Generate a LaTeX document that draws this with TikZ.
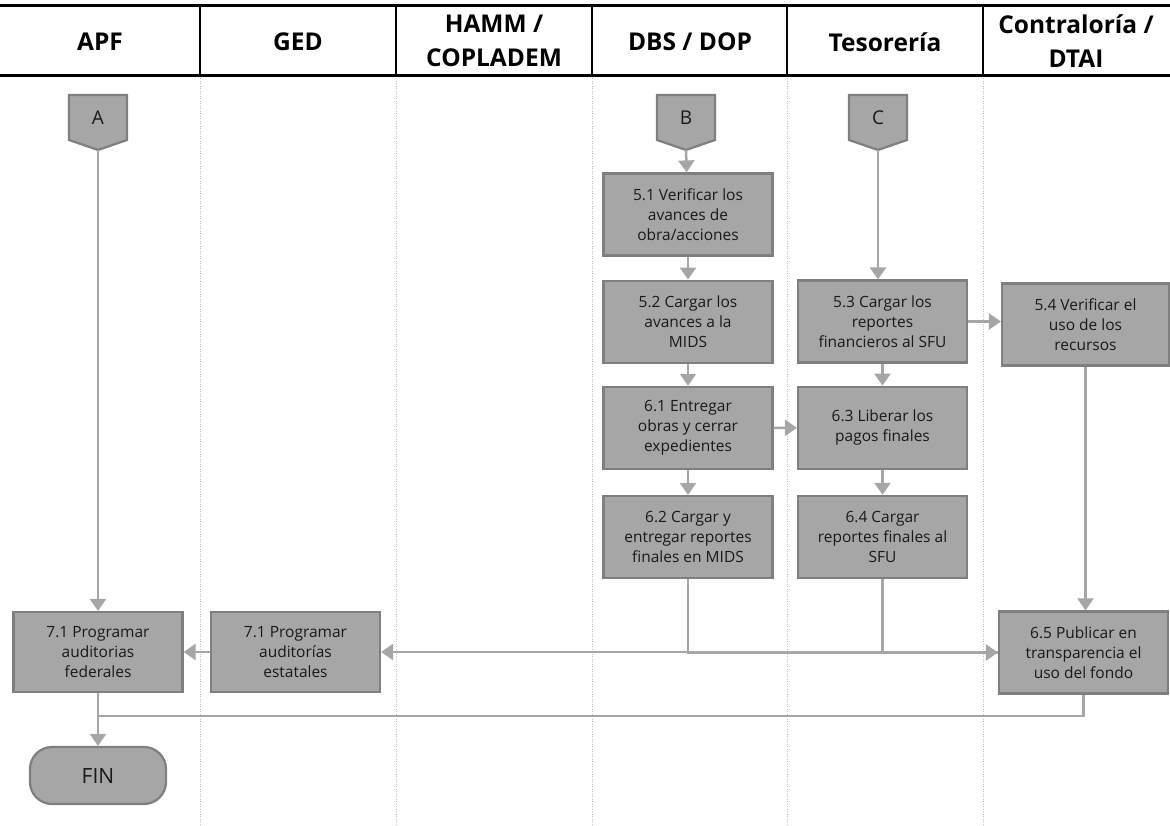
\documentclass[tikz,border=0pt]{standalone}
\usepackage{fontspec}
\setmainfont{Open Sans}
\usetikzlibrary{calc,positioning,arrows.meta}
\tikzset{>={Triangle[length=12pt,width=16pt]}}

\definecolor{boxfill}{HTML}{A6A6A6}
\definecolor{boxline}{HTML}{7F7F7F}
\definecolor{arrowgray}{HTML}{A6A6A6}
\definecolor{lanegray}{HTML}{BFBFBF}

\tikzset{
  task/.style={draw=boxline, fill=boxfill, line width=2.2pt,
    minimum width=169pt, minimum height=82pt, inner sep=2pt,
    align=center, text=black!90, font=\fontsize{15.5}{20}\selectfont},
  finbox/.style={task, rounded corners=22pt, minimum width=136pt, minimum height=57pt,
    font=\fontsize{21}{24}\selectfont},
  mk/.style={minimum width=58pt, minimum height=45pt, inner sep=0pt,
    text=black!90, font=\fontsize{19}{22}\selectfont},
  mkline/.style={draw=boxline, fill=boxfill, line width=2.2pt},
  flow/.style={->, draw=arrowgray, line width=2.5pt},
  plain/.style={draw=arrowgray, line width=2.5pt},
  lanehead/.style={align=center, font=\fontsize{24.5}{34}\selectfont\bfseries},
  lanesep/.style={draw=lanegray, line width=0.8pt, dash pattern=on 1pt off 1.5pt},
}

% off-page connector: name, position, letter
\newcommand{\offpage}[3]{%
  \begin{scope}[shift={#2}]
    \draw[mkline] (-29,-22.5) -- (29,-22.5) -- (29,22.5) -- (0,32.5) -- (-29,22.5) -- cycle;
  \end{scope}
  \node[mk] (#1) at #2 {#3};
  \coordinate (#1tip) at ($#2+(0,32.5)$);
}

\begin{document}
\begin{tikzpicture}[x=1pt,y=-1pt]
  \useasboundingbox (0,0) rectangle (1170,826);

  % lanes
  \foreach \xx in {200,396,592,787,983} {
    \draw[lanesep] (\xx,76) -- (\xx,826);
    \draw[line width=2.5pt] (\xx,6) -- (\xx,76);
  }
  \draw[line width=3pt] (0,6) -- (1170,6);
  \draw[line width=3pt] (0,76) -- (1170,76);

  \node[lanehead] (hapf) at (100,42) {APF};
  \node[lanehead] (hged) at (298,42) {GED};
  \node[lanehead] (hhamm) at (494,41) {HAMM /\\COPLADEM};
  \node[lanehead] (hdbs) at (690,42) {DBS / DOP};
  \node[lanehead] (htes) at (885,42) {Tesorería};
  \node[lanehead] (hcon) at (1076,41) {Contraloría /\\DTAI};

  % connectors from previous page
  \offpage{A}{(98,117.5)}{A}
  \offpage{B}{(686,117.5)}{B}
  \offpage{C}{(878,117.5)}{C}

  % DBS / DOP
  \node[task] (n51) at (688,214.5) {5.1 Verificar los\\avances de\\obra/acciones};
  \node[task, below=23pt of n51] (n52) {5.2 Cargar los\\avances a la\\MIDS};
  \node[task, below=22pt of n52] (n61) {6.1 Entregar\\obras y cerrar\\expedientes};
  \node[task, below=25pt of n61] (n62) {6.2 Cargar y\\entregar reportes\\finales en MIDS};

  % Tesoreria
  \node[task] (n53) at (882.5,321.5) {5.3 Cargar los\\reportes\\financieros al SFU};
  \node[task, below=22pt of n53] (n63) {6.3 Liberar los\\pagos finales};
  \node[task, below=25pt of n63] (n64) {6.4 Cargar\\reportes finales al\\SFU};

  % Contraloria / DTAI
  \node[task, minimum width=167pt] (n54) at (1085.5,324.5) {5.4 Verificar el\\uso de los\\recursos};
  \node[task] (n65) at (1083.5,652.5) {6.5 Publicar en\\transparencia el\\uso del fondo};

  % APF / GED
  \node[task, minimum height=80pt] (fed) at (98,652) {7.1 Programar\\auditorias\\federales};
  \node[task, minimum height=80pt] (est) at (295.5,652) {7.1 Programar\\auditorías\\estatales};
  \node[finbox] (fin) at (98,775.5) {FIN};
  \coordinate (join) at (98,716);

  \draw[flow] (Btip) -- (n51);
  \draw[flow] (n51) -- (n52);
  \draw[flow] (n52) -- (n61);
  \draw[flow] (n61) -- (n62);
  \draw[flow] (Ctip) -- (Ctip |- n53.north);
  \draw[flow] (n53) -- (n63);
  \draw[flow] (n63) -- (n64);
  \draw[flow] (n53) -- (n53 -| n54.west);
  \draw[flow] (n61) -- (n63);
  \draw[flow] (n54.south) -- (n54.south |- n65.north);
  \draw[flow] (Atip) -- (Atip |- fed.north);
  \draw[flow] (est) -- (fed);
  \draw[flow] (n62.south) |- (est.east);
  \draw[flow] (n62.south) |- (n65.west);
  \draw[plain] (n64.south) |- (n65.west);
  \draw[plain] (n65.south) |- (join);
  \draw[flow] (fed) -- (fin);
\end{tikzpicture}
\end{document}
